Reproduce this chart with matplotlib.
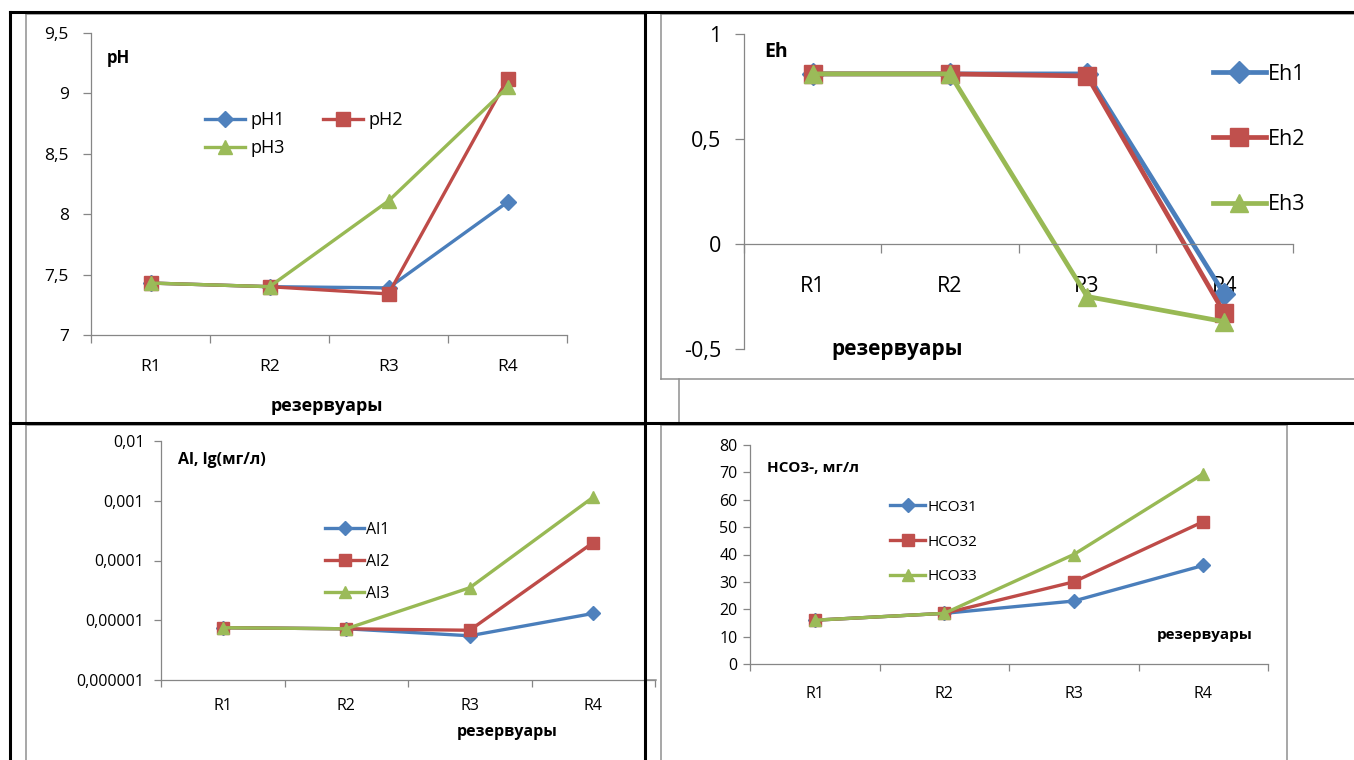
import numpy as np
import matplotlib.pyplot as plt
from matplotlib.lines import Line2D
from matplotlib.ticker import NullLocator

plt.rcParams['font.family'] = ['Open Sans', 'DejaVu Sans']

W, H = 1354, 760

# --- data ---
categories = ["R1", "R2", "R3", "R4"]
axis_title = "резервуары"

ph_labels = ["pH1", "pH2", "pH3"]
ph1 = [7.43, 7.40, 7.39, 8.10]
ph2 = [7.43, 7.40, 7.34, 9.12]
ph3 = [7.43, 7.40, 8.11, 9.05]
ph_ticks = [7, 7.5, 8, 8.5, 9, 9.5]
ph_ticklabels = ["7", "7,5", "8", "8,5", "9", "9,5"]

eh_labels = ["Eh1", "Eh2", "Eh3"]
eh1 = [0.81, 0.81, 0.81, -0.24]
eh2 = [0.81, 0.81, 0.80, -0.33]
eh3 = [0.81, 0.81, -0.25, -0.37]
eh_ticks = [-0.5, 0, 0.5, 1]
eh_ticklabels = ["-0,5", "0", "0,5", "1"]

al_labels = ["Al1", "Al2", "Al3"]
al1 = [7.5e-6, 7.2e-6, 5.5e-6, 1.3e-5]
al2 = [7.5e-6, 7.2e-6, 6.8e-6, 2.0e-4]
al3 = [7.5e-6, 7.2e-6, 3.5e-5, 1.15e-3]
al_ticks = [1e-6, 1e-5, 1e-4, 1e-3, 1e-2]
al_ticklabels = ["0,000001", "0,00001", "0,0001", "0,001", "0,01"]

hco_labels = ["HCO31", "HCO32", "HCO33"]
hco1 = [16, 18.5, 23, 36]
hco2 = [16, 18.5, 30, 52]
hco3 = [16, 18.5, 40, 69.5]
hco_ticks = [0, 10, 20, 30, 40, 50, 60, 70, 80]

# Excel 2007 default colours: (line, marker, marker shape, size factor)
STYLES = [
    ("#4A7EBB", "#4F81BD", "D", 0.85),
    ("#BE4B48", "#C0504D", "s", 1.0),
    ("#98B954", "#9BBB59", "^", 1.05),
]
AXIS_GRAY = "#868686"
FRAME_GRAY = "#8f8f8f"

fig = plt.figure(figsize=(W / 100, H / 100), dpi=100)


def fx(x):
    return x / W


def fy(y):
    return 1 - y / H


def add_ax(x0, y0, x1, y1):
    return fig.add_axes([fx(x0), fy(y1), (x1 - x0) / W, (y1 - y0) / H])


def setup(ax, fs, xpad, ypad, ylen):
    for s in ["top", "right"]:
        ax.spines[s].set_visible(False)
    for s in ["left", "bottom"]:
        ax.spines[s].set_color(AXIS_GRAY)
        ax.spines[s].set_linewidth(0.9)
    n = len(categories)
    ax.set_xlim(0, n)
    ax.set_xticks(np.arange(n + 1), labels=[""] * (n + 1))
    ax.set_xticks(np.arange(n) + 0.5, labels=categories, minor=True)
    ax.tick_params(axis="x", which="major", length=ylen, color=AXIS_GRAY, width=0.9)
    ax.tick_params(axis="x", which="minor", length=0, pad=xpad, labelsize=fs)
    ax.tick_params(axis="y", which="major", length=ylen, color=AXIS_GRAY,
                   width=0.9, pad=ypad, labelsize=fs)
    ax.yaxis.set_minor_locator(NullLocator())
    ax.patch.set_alpha(0)


def draw(ax, series, labels, lw, ms):
    x = np.arange(len(categories)) + 0.5
    handles = []
    for vals, lab, (lc, mc, mk, k) in zip(series, labels, STYLES):
        h, = ax.plot(x, vals, color=lc, lw=lw, marker=mk, ms=ms * k,
                     mfc=mc, mec=mc, label=lab, clip_on=False)
        handles.append(h)
    return handles


def legend(ax, handles, x_left, y_center, fs, hl, tp, ls, ncol=1, cs=2.0):
    ax.legend(handles=handles, loc="center left",
              bbox_to_anchor=(fx(x_left), fy(y_center)),
              bbox_transform=fig.transFigure, frameon=False, fontsize=fs,
              handlelength=hl, handletextpad=tp, labelspacing=ls,
              borderpad=0, borderaxespad=0, ncol=ncol, columnspacing=cs,
              numpoints=1)


def label(x, y, s, fs, ha="left"):
    fig.text(fx(x), fy(y), s, fontsize=fs, fontweight="bold",
             ha=ha, va="center")


# --- pH ---
ax = add_ax(91, 33, 567, 335)
setup(ax, 12.5, 17, 10, 6)
h = draw(ax, [ph1, ph2, ph3], ph_labels, 2.4, 9.5)
ax.set_ylim(7, 9.5)
ax.set_yticks(ph_ticks, labels=ph_ticklabels)
legend(ax, [h[0], h[2], h[1]], 205, 134, 13, 2.2, 0.33, 0.55, ncol=2, cs=2.1)
label(107, 58, "pH", 12)
label(327, 406, axis_title, 13, ha="center")

# --- Eh ---
ax = add_ax(744, 34, 1293, 349)
setup(ax, 15.5, 23, 10, 6.5)
h = draw(ax, [eh1, eh2, eh3], eh_labels, 3.4, 13)
ax.set_ylim(-0.5, 1)
ax.set_yticks(eh_ticks, labels=eh_ticklabels)
ax.spines["bottom"].set_position(("data", 0))
legend(ax, h, 1213, 139.5, 15.5, 2.45, 0.1, 2.06)
label(764, 52, "Eh", 14)
label(897, 349, axis_title, 15, ha="center")

# --- Al (log) ---
ax = add_ax(161, 441, 655, 680)
setup(ax, 11.5, 13, 7, 5)
h = draw(ax, [al1, al2, al3], al_labels, 2.4, 8.5)
ax.set_yscale("log")
ax.set_ylim(1e-6, 1e-2)
ax.set_yticks(al_ticks, labels=al_ticklabels)
ax.yaxis.set_minor_locator(NullLocator())
legend(ax, h, 325, 562, 11.5, 2.45, 0.12, 1.0)
label(178, 460, "Al, lg(мг/л)", 11.5)
label(507, 732, axis_title, 11.5, ha="center")

# --- HCO3 ---
ax = add_ax(750, 445, 1268, 664)
setup(ax, 11.5, 16, 4, 5)
h = draw(ax, [hco1, hco2, hco3], hco_labels, 2.4, 8.5)
ax.set_ylim(0, 80)
ax.set_yticks(hco_ticks)
legend(ax, h, 890, 542, 11, 2.3, 0.13, 1.29)
label(767, 468, "HCO3-, мг/л", 11)
label(1205, 635, axis_title, 11, ha="center")


# --- table borders and Excel chart frames ---
def hline(y, x0, x1, color, lw):
    fig.add_artist(Line2D([fx(x0), fx(x1)], [fy(y), fy(y)], color=color, lw=lw))


def vline(x, y0, y1, color, lw):
    fig.add_artist(Line2D([fx(x), fx(x)], [fy(y0), fy(y1)], color=color, lw=lw))


hline(14, 26, 645, FRAME_GRAY, 1.1)
hline(425, 26, 645, FRAME_GRAY, 1.1)
vline(26, 14, 760, FRAME_GRAY, 1.1)
hline(14, 661, 1354, FRAME_GRAY, 1.1)
hline(379, 661, 1354, FRAME_GRAY, 1.1)
vline(661, 14, 379, FRAME_GRAY, 1.1)
vline(679, 379, 423, FRAME_GRAY, 1.1)
hline(425, 661, 1287, FRAME_GRAY, 1.1)
vline(661, 425, 760, FRAME_GRAY, 1.1)
vline(1287, 425, 760, FRAME_GRAY, 1.1)
hline(680, 645, 656, FRAME_GRAY, 1.1)

hline(12, 10, 1354, "black", 2.2)
hline(423, 10, 1354, "black", 2.2)
vline(10, 12, 760, "black", 2.2)
vline(645, 12, 760, "black", 2.2)

fig.savefig("out.png", dpi=100)
